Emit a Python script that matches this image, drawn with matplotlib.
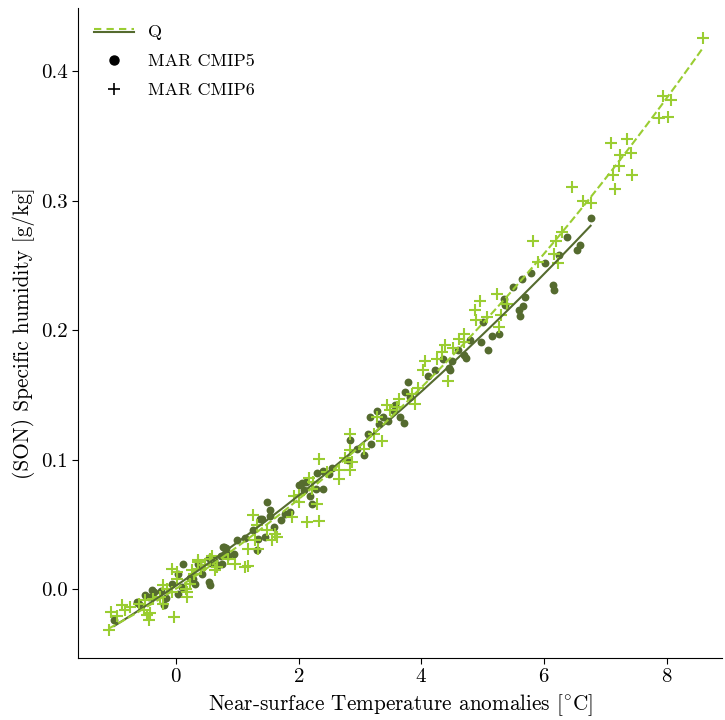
import numpy as np
import matplotlib
matplotlib.use("Agg")
import matplotlib.pyplot as plt
from matplotlib.lines import Line2D
from matplotlib.legend_handler import HandlerBase

plt.rcParams['font.family'] = 'serif'
plt.rcParams['font.serif'] = ['cmr10', 'DejaVu Serif']
plt.rcParams['mathtext.fontset'] = 'cm'
plt.rcParams['axes.formatter.use_mathtext'] = True
plt.rcParams['axes.unicode_minus'] = False

# MAR CMIP5 (temperature anomaly, specific humidity anomaly)
cmip5_t = [-1.01, -0.63, -0.60, -0.40, -0.36, -0.44, -0.25, -0.06, -0.16, 0.12, 0.03, 0.03, 0.10, 0.22,
           0.27, 0.35, 0.42, 0.53, 0.55, 0.61, 0.75, 0.76, 0.74, 0.85, 0.53, 0.57, 0.69, 0.78, 0.82, 0.81,
           0.99, 1.32, 1.34, 1.45, 1.37, 1.40, 1.53, 1.53, 1.48, 1.71, 1.77, 2.22, 2.00, 2.05, 2.08, 2.28,
           2.39, 2.19, 2.40, 2.30, 2.49, 2.81, 3.06, 2.84, 3.18, 3.13, 3.31, 3.16, 3.38, 3.27, 3.56, 3.65,
           3.72, 3.57, 3.74, 3.82, 3.78, 4.23, 4.45, 4.46, 4.50, 4.70, 4.73, 5.08, 4.80, 4.97, 5.15, 5.26,
           5.01, 5.61, 5.59, 5.66, 5.37, 5.34, 5.69, 5.49, 6.14, 6.16, 5.64, 5.79, 6.02, 6.24, 6.54, 6.58,
           6.38, 6.76, 1.12, 1.25, 1.60, 0.95, 0.30, -0.20, -0.50, 1.85, 2.12, 2.55, 2.95, 3.45, 4.10,
           4.60, 4.35]
cmip5_q = [-0.0234, -0.0098, -0.011, -0.0008, -0.002, -0.006, -0.001, 0.0044, -0.007, 0.0193, 0.012,
           -0.0033, 0.002, 0.009, 0.008, 0.0198, 0.012, 0.0056, 0.003, 0.0224, 0.0198, 0.0327, 0.026, 0.026,
           0.0245, 0.020, 0.0185, 0.0327, 0.032, 0.030, 0.0378, 0.0307, 0.039, 0.0404, 0.0546, 0.054, 0.057,
           0.0615, 0.0674, 0.0533, 0.0585, 0.066, 0.0809, 0.082, 0.077, 0.0778, 0.0778, 0.072, 0.0911, 0.090,
           0.0888, 0.0996, 0.104, 0.115, 0.1125, 0.1202, 0.1274, 0.133, 0.133, 0.138, 0.138, 0.133, 0.1284,
           0.142, 0.1524, 0.1485, 0.160, 0.169, 0.171, 0.169, 0.1763, 0.1807, 0.1786, 0.1846, 0.1923, 0.191,
           0.1954, 0.1975, 0.2064, 0.211, 0.2154, 0.2188, 0.2198, 0.2245, 0.2257, 0.2335, 0.235, 0.231, 0.240,
           0.2446, 0.252, 0.258, 0.262, 0.266, 0.272, 0.287, 0.040, 0.046, 0.048, 0.027, 0.004, -0.012,
           -0.004, 0.060, 0.083, 0.094, 0.108, 0.130, 0.165, 0.185, 0.178]

# MAR CMIP6
cmip6_t = [8.60, 7.94, 8.07, 7.88, 8.03, 7.10, 7.35, 7.24, 7.42, 7.23, 7.12, 7.44, 7.16, 6.45, 6.64, 6.77,
           5.82, 6.19, 6.30, 6.16, 6.23, 5.90, 5.24, 4.95, 4.88, 4.89, 5.07, 5.30, 5.39, 5.27, 4.69, 4.62,
           4.70, 4.38, 4.52, 4.33, 4.25, 4.06, 4.03, 4.43, 3.95, 3.85, 3.64, 3.44, 3.90, 3.60, 3.49, 3.27,
           2.84, 3.36, 3.22, 3.06, 2.84, 2.33, 2.76, 2.87, 2.83, 2.66, 2.65, 2.46, 2.16, 2.24, 2.21, 2.00,
           2.13, 2.33, 1.89, 1.93, 2.30, 2.00, 1.26, 1.32, 1.48, 1.61, 1.64, 1.56, 1.29, 1.34, 1.18, 0.96,
           1.13, 1.18, 0.85, 0.58, 0.47, 0.36, -1.10, -1.06, -0.97, -0.89, -0.75, -0.84, -0.61, -0.53,
           -0.48, -0.45, -0.42, -0.51, -0.37, -0.21, -0.03, -0.26, -0.21, -0.15, -0.07, -0.06, 0.01, 0.01,
           0.17, 0.18, 0.23, 0.26, 0.29, 0.36, 0.16, 0.41, 0.55, 0.64, 0.67]
cmip6_q = [0.4255, 0.381, 0.378, 0.364, 0.365, 0.345, 0.348, 0.335, 0.337, 0.327, 0.320, 0.320, 0.309,
           0.311, 0.300, 0.298, 0.269, 0.269, 0.276, 0.259, 0.252, 0.253, 0.228, 0.223, 0.216, 0.208, 0.210,
           0.2116, 0.2206, 0.2025, 0.197, 0.1936, 0.191, 0.1884, 0.1866, 0.1833, 0.178, 0.176, 0.1696, 0.161,
           0.1557, 0.151, 0.1473, 0.142, 0.1429, 0.141, 0.1388, 0.133, 0.1197, 0.1145, 0.120, 0.1086, 0.1073,
           0.1009, 0.1017, 0.0983, 0.0924, 0.0924, 0.0855, 0.0906, 0.0863, 0.0829, 0.0778, 0.0731, 0.052,
           0.0527, 0.0558, 0.0718, 0.066, 0.0674, 0.0571, 0.0494, 0.0456, 0.043, 0.0404, 0.0378, 0.0378,
           0.0314, 0.0314, 0.0198, 0.0172, 0.018, 0.0237, 0.026, 0.0185, 0.0224, -0.0311, -0.0175, -0.0208,
           -0.0124, -0.0137, -0.016, -0.0116, -0.0162, -0.020, -0.0234, -0.018, -0.0085, -0.0072, -0.011,
           -0.0214, -0.006, 0.0031, 0.0, -0.002, 0.016, 0.0134, 0.008, -0.006, -0.002, 0.0044, 0.0147, 0.012,
           0.021, 0.0, 0.016, 0.0237, 0.0147, 0.017]

c5 = '#556b2f'
c6 = '#9acd32'


class HandlerTwoLines(HandlerBase):
    def create_artists(self, legend, orig_handle, xdescent, ydescent, width, height, fontsize, trans):
        y = height / 2 - ydescent
        x0, x1 = -xdescent, width - xdescent
        lo = Line2D([x0, x1], [y - 1.2, y - 1.2], color=c5, lw=1.5, transform=trans)
        hi = Line2D([x0, x1], [y + 1.2, y + 1.2], color=c6, lw=1.5, ls=(0, (3.5, 2.5)), transform=trans)
        return [lo, hi]


fig = plt.figure(figsize=(7.25, 7.2), dpi=100)
ax = fig.add_axes([0.1076, 0.0861, 0.888, 0.903])

ax.scatter(cmip5_t, cmip5_q, s=32, color=c5, marker='o', linewidths=0, zorder=2)
ax.scatter(cmip6_t, cmip6_q, s=80, color=c6, marker='+', linewidths=1.5, zorder=3)

for t, q, col, ls in [(cmip5_t, cmip5_q, c5, '-'), (cmip6_t, cmip6_q, c6, '--')]:
    t = np.array(t); q = np.array(q)
    p = np.polyfit(t, q, 2)
    xx = np.linspace(t.min(), t.max(), 200)
    ax.plot(xx, np.polyval(p, xx), color=col, ls=ls, lw=1.5, zorder=4)

ax.set_xlim(-1.6, 8.9)
ax.set_ylim(-0.053, 0.449)
ax.set_xticks([0, 2, 4, 6, 8])
ax.set_yticks([0.0, 0.1, 0.2, 0.3, 0.4])
ax.set_yticklabels(['0.0', '0.1', '0.2', '0.3', '0.4'])
ax.spines['top'].set_visible(False)
ax.spines['right'].set_visible(False)
ax.tick_params(labelsize=15, direction='out', length=4)
ax.set_xlabel(r'Near-surface Temperature anomalies [$^{\circ}$C]', fontsize=15.3)
ax.set_ylabel('(SON) Specific humidity [g/kg]', fontsize=15.3)

hq = object()
h5 = Line2D([], [], color='black', marker='o', ls='', markersize=6.5)
h6 = Line2D([], [], color='black', marker='+', ls='', markersize=9, markeredgewidth=1.2)
ax.legend([hq, h5, h6], ['Q', 'MAR CMIP5', 'MAR CMIP6'], loc='upper left', frameon=False,
          fontsize=13, handlelength=2.2, borderaxespad=0.5, labelspacing=0.75, handletextpad=0.75,
          handler_map={hq: HandlerTwoLines()})

fig.savefig('out.png', dpi=100)
